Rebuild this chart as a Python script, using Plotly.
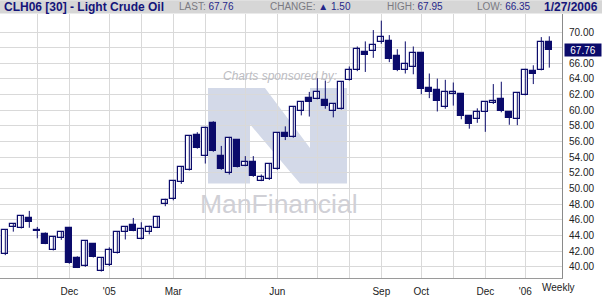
import pandas as pd
import plotly.graph_objects as go

# ---------------- data (weekly candles, week starting Monday) ----------------
week_start = pd.date_range("2004-09-27", periods=70, freq="7D")
dates = [d.strftime("%Y-%m-%d") for d in week_start]

opens = [42.4, 41.6, 45.1, 45.0, 46.3, 44.65, 44.2, 42.2, 43.7, 45.0,
         41.1, 40.1, 42.9, 39.45, 40.2, 41.8, 44.5, 45.35, 43.6, 44.4,
         45.0, 48.0, 48.7, 50.9, 52.4, 56.8, 54.2, 58.4, 54.2, 51.95,
         56.15, 52.9, 53.45, 51.0, 51.2, 52.5, 57.1, 56.6, 59.9, 61.6,
         61.5, 61.3, 59.85, 60.2, 63.9, 65.15, 67.4, 67.55, 68.7, 68.8,
         66.9, 65.2, 65.5, 67.3, 62.9, 62.6, 60.4, 62.05, 62.05, 59.25,
         58.85, 59.75, 60.95, 61.5, 59.75, 58.85, 61.95, 65.0, 65.2, 68.7]
highs = [42.6, 44.8, 45.6, 46.6, 47.15, 45.1, 44.4, 43.9, 44.55, 45.1,
         41.35, 43.3, 42.95, 41.15, 42.5, 44.45, 45.1, 46.25, 45.7, 45.25,
         46.45, 48.7, 51.1, 52.8, 56.8, 57.2, 57.9, 58.6, 55.45, 56.6,
         56.2, 54.15, 54.15, 51.8, 53.25, 57.15, 57.95, 60.45, 61.15, 62.35,
         64.1, 63.8, 60.85, 63.7, 65.6, 68.15, 68.8, 70.25, 71.45, 69.6,
         67.8, 68.8, 68.15, 67.4, 64.7, 64.05, 63.9, 63.55, 62.1, 59.3,
         60.25, 61.05, 63.35, 63.65, 59.9, 62.2, 65.3, 65.75, 69.35, 69.45]
lows = [41.0, 41.5, 44.5, 44.9, 45.0, 43.65, 42.9, 42.1, 43.45, 40.4,
        39.85, 40.0, 41.2, 39.4, 40.1, 41.7, 43.5, 44.55, 43.5, 44.15,
        44.95, 47.75, 48.5, 50.6, 52.3, 55.1, 53.2, 54.7, 52.4, 51.8,
        52.7, 52.85, 51.5, 50.95, 51.1, 52.4, 56.2, 56.5, 59.35, 59.2,
        61.4, 60.2, 59.1, 60.1, 63.8, 65.0, 64.9, 66.7, 68.5, 66.15,
        65.0, 64.7, 64.6, 62.05, 61.55, 59.85, 60.2, 60.6, 58.85, 57.65,
        58.4, 57.25, 60.8, 59.75, 58.15, 58.1, 61.9, 63.35, 65.1, 65.45]
closes = [41.4, 44.7, 45.5, 46.5, 45.7, 44.6, 42.95, 43.85, 44.5, 40.5,
          39.9, 43.25, 41.25, 41.1, 42.1, 44.4, 45.05, 44.6, 44.9, 45.05,
          46.4, 48.6, 51.0, 52.7, 56.7, 55.2, 57.8, 54.8, 52.5, 56.5,
          52.8, 53.45, 51.55, 51.5, 53.2, 57.1, 56.6, 60.4, 61.1, 61.0,
          62.3, 60.5, 60.8, 63.6, 65.2, 67.8, 67.1, 68.4, 69.35, 66.5,
          65.15, 65.95, 67.3, 62.7, 62.35, 61.25, 62.3, 62.3, 59.25, 58.3,
          59.75, 61.0, 61.25, 59.85, 59.0, 62.15, 65.15, 64.6, 68.7, 67.76]

# month grid lines (first weekly bar of each month) and their labels
grid_dates = ["2004-11-01", "2004-11-29", "2005-01-03", "2005-01-31", "2005-02-28",
              "2005-03-28", "2005-05-02", "2005-05-30", "2005-07-04", "2005-08-01",
              "2005-08-29", "2005-10-03", "2005-10-31", "2005-11-28", "2006-01-02"]
grid_labels = ["", "Dec", "'05", "", "Mar", "", "", "Jun", "", "",
               "Sep", "Oct", "", "Dec", "'06"]
y_ticks = [40, 42, 44, 46, 48, 50, 52, 54, 56, 58, 60, 62, 64, 66, 68, 70]
y_labels = ["%.2f" % v if v != 68 else "" for v in y_ticks]

title = "CLH06 [30] - Light Crude Oil"
last_val, change_val, high_val, low_val, date_txt = "67.76", "1.50", "67.95", "66.35", "1/27/2006"

# ---------------- styling ----------------
NAVY = "#0b0b6b"
W, H = 602, 297
ML, MR, MT, MB = 0, 40, 14, 15
PW, PH = W - ML - MR, H - MT - MB


def px(x):
    return (x - ML) / PW


def py(y):
    return (H - MB - y) / PH


fig = go.Figure()

# wicks
wx, wy = [], []
for d, h, l in zip(dates, highs, lows):
    wx += [d, d, None]
    wy += [l, h, None]
fig.add_trace(go.Scatter(x=wx, y=wy, mode="lines", line=dict(color=NAVY, width=1),
                         hoverinfo="skip", showlegend=False))

# bodies
base = [min(o, c) for o, c in zip(opens, closes)]
height = [max(abs(c - o), 0.03) for o, c in zip(opens, closes)]
colors = [NAVY if c < o else "white" for o, c in zip(opens, closes)]
week_ms = 7 * 24 * 3600 * 1000
fig.add_trace(go.Bar(x=dates, y=height, base=base, width=week_ms * 5.0 / 7,
                     marker=dict(color=colors, line=dict(color=NAVY, width=1.2)),
                     hoverinfo="skip", showlegend=False))

x0 = week_start[0] + pd.Timedelta(days=7 * 2.7 / 8)
x1 = week_start[0] + pd.Timedelta(days=7 * (PW + 2.7) / 8)

fig.update_layout(
    width=W, height=H, margin=dict(l=ML, r=MR, t=MT, b=MB),
    paper_bgcolor="white", plot_bgcolor="white",
    font=dict(family="Liberation Sans, Arial, sans-serif", size=10, color="#222"),
    xaxis=dict(type="date", range=[x0, x1], tickmode="array", tickvals=grid_dates,
               ticktext=grid_labels, showgrid=True, gridcolor="#d9d9d9", gridwidth=1,
               showline=True, linecolor="#9a9a9a", linewidth=1, ticks="",
               zeroline=False, ticklabelstandoff=4, tickfont=dict(size=10, color="#222")),
    yaxis=dict(side="right", range=[38.58, 72.3], tickmode="array", tickvals=y_ticks,
               ticktext=y_labels, showgrid=True, gridcolor="#d9d9d9", gridwidth=1,
               showline=True, linecolor="#8a8a8a", linewidth=1, ticks="",
               zeroline=False, ticklabelstandoff=4, tickfont=dict(size=10, color="#222")),
    bargap=0, showlegend=False,
)

# header band
fig.add_shape(type="rect", xref="paper", yref="paper", x0=px(0), x1=px(W), y0=py(13.5), y1=py(0),
              fillcolor="#d6d6d6", line=dict(width=0), layer="above")

# logo watermark (stylised M: two blocks joined by a diagonal)
pts = [(208, 89), (265, 89), (310, 150), (310, 89), (347, 89), (347, 186),
       (300, 186), (250, 126), (250, 186), (208, 186)]
path = "M " + " L ".join("%f,%f" % (px(a), py(b)) for a, b in pts) + " Z"
fig.add_shape(type="path", xref="paper", yref="paper", path=path,
              fillcolor="#d3d9e8", line=dict(width=0), layer="between")

ann = []
hy = py(6.8)
ann.append(dict(x=px(2), y=hy, text="<b>%s</b>" % title, xanchor="left",
                font=dict(size=12, color="#14147a")))
GR, BL = "#7a7a82", "#26268a"
ann.append(dict(x=px(177), y=hy, xanchor="left",
                text="LAST: <span style='color:%s'>%s</span>" % (BL, last_val),
                font=dict(size=10, color=GR)))
ann.append(dict(x=px(268), y=hy, xanchor="left",
                text="CHANGE: <span style='color:%s'>\u25b2 %s</span>" % (BL, change_val),
                font=dict(size=10, color=GR)))
ann.append(dict(x=px(385), y=hy, xanchor="left",
                text="HIGH: <span style='color:%s'>%s</span>" % (BL, high_val),
                font=dict(size=10, color=GR)))
ann.append(dict(x=px(475), y=hy, xanchor="left",
                text="LOW: <span style='color:%s'>%s</span>" % (BL, low_val),
                font=dict(size=10, color=GR)))
ann.append(dict(x=px(600), y=hy, xanchor="right", text="<b>%s</b>" % date_txt,
                font=dict(size=12, color="#14147a")))
# last price tag
ann.append(dict(x=px(564), xref="paper", y=closes[-1], yref="y", xanchor="left",
                text=last_val, bgcolor=NAVY, width=34, height=10, borderpad=1,
                font=dict(size=10, color="white")))
# watermark texts
ann.append(dict(x=px(280), y=py(77), text="<i>Charts sponsored by:</i>",
                font=dict(size=12, color="#bcbcc2")))
ann.append(dict(x=px(279), y=py(207), text="ManFinancial",
                font=dict(size=26.5, color="#d0d0d6",
                          family="Liberation Sans Narrow, Liberation Sans, Arial")))
ann.append(dict(x=px(577), y=py(292), text="Weekly", font=dict(size=10, color="#222")))

for a in ann:
    a.setdefault("xref", "paper")
    a.setdefault("yref", "paper")
    a.setdefault("showarrow", False)
    a.setdefault("yanchor", "middle")
    fig.add_annotation(**a)

fig.write_html("out.html")
